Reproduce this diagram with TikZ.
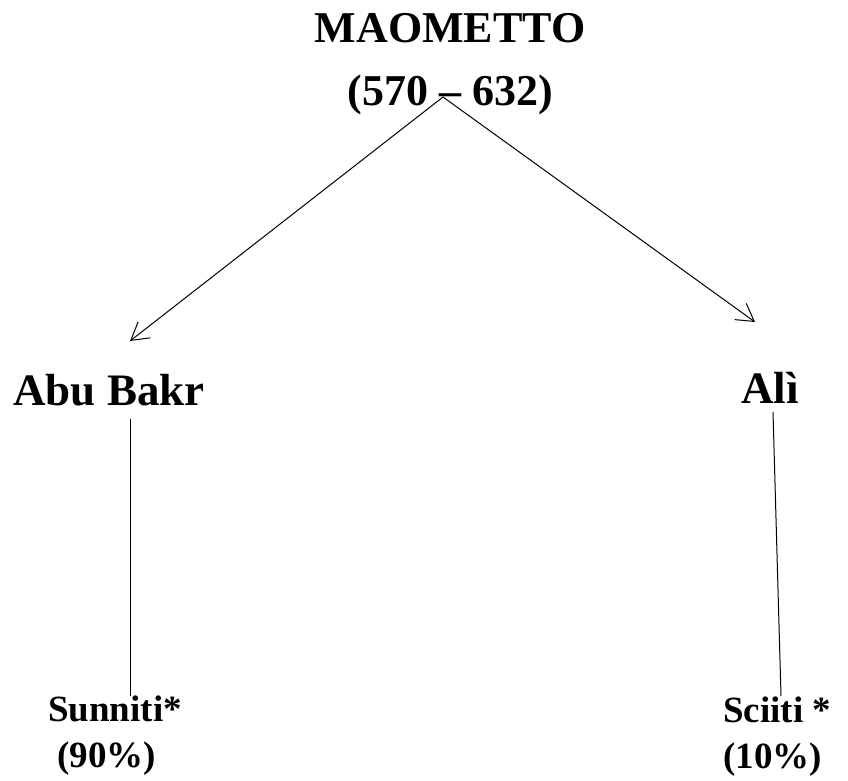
\documentclass[tikz,border=0pt]{standalone}
\usepackage{fontspec}
\setmainfont{Liberation Serif}
\usetikzlibrary{arrows.meta, positioning, calc}

\begin{document}
\begin{tikzpicture}[x=1pt, y=-1pt,
  founder/.style={font=\bfseries\fontsize{44}{63}\selectfont, inner sep=0pt, align=center},
  heir/.style={font=\bfseries\fontsize{45}{54}\selectfont, inner sep=0pt},
  branch/.style={font=\bfseries\fontsize{37}{46}\selectfont, inner sep=0pt, align=left},
  link/.style={line width=1pt, -{Straight Barb[length=17pt, width=20pt]}},
  stem/.style={line width=1pt}]
  \useasboundingbox (0,0) rectangle (848,780);
  % Founder
  \node[founder, anchor=north] (maometto) at (450,13) {MAOMETTO\\(570 -- 632)};
  \coordinate (fork) at (443,97);
  % Successors
  \node[heir, anchor=base] (abu) at (109,405) {Abu Bakr};
  \node[heir, anchor=base] (ali) at (770,403) {Alì};
  \coordinate (abutip) at (130,341);
  \coordinate (alitip) at (755,322);
  \draw[link] (fork) -- (abutip);
  \draw[link] (fork) -- (alitip);
  % Branches
  \node[branch, anchor=north west] (sunniti) at (48,696) {Sunniti*\\\hspace{0.25em}(90\%)};
  \node[branch, anchor=north west] (sciiti) at (723,697) {Sciiti *\\(10\%)};
  \draw[stem] ($(abu.south)+(21,13)$) coordinate (abufoot) -- (abufoot |- sunniti.north);
  \draw[stem] ($(ali.south)+(3,9)$) -- ($(sciiti.north west)+(58,-1)$);
\end{tikzpicture}
\end{document}
